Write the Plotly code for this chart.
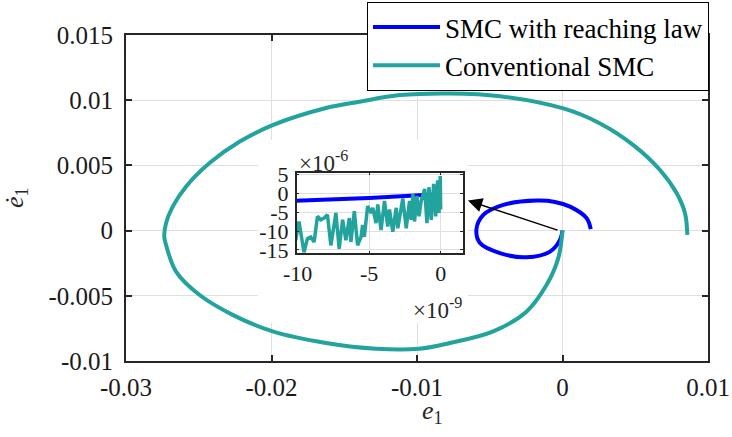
import plotly.graph_objects as go

# ---------------- data ----------------
# Conventional SMC phase trajectory (e1, de1)
conv_e1 = [0.00858, 0.00842, 0.00785, 0.00670, 0.00487, 0.00258, 0.00006, -0.00430,
           -0.00773, -0.01117, -0.01397, -0.01625, -0.01992, -0.02221, -0.02428, -0.02588,
           -0.02679, -0.02725, -0.02737, -0.02725, -0.02656, -0.02496, -0.02267, -0.01992,
           -0.01625, -0.01282, -0.00984, -0.00773, -0.00476, -0.00246, -0.00109, -0.00029, 0.0]
conv_de1 = [-0.00033, 0.00133, 0.00286, 0.00465, 0.00656, 0.00822, 0.00937, 0.01031,
            0.01052, 0.01039, 0.00988, 0.00940, 0.00809, 0.00681, 0.00516, 0.00337,
            0.00184, 0.00057, -0.00046, -0.00109, -0.00314, -0.00492, -0.00646, -0.00773,
            -0.00862, -0.00906, -0.00906, -0.00862, -0.00773, -0.00620, -0.00416, -0.00211, 0.0]

# SMC with reaching law phase trajectory (e1, de1)
rl_e1 = [0.00194, 0.00166, 0.00052, -0.00052, -0.00177, -0.00407, -0.00544, -0.00591,
         -0.00567, -0.00430, -0.00246, -0.00086, -0.00017, 0.0]
rl_de1 = [0.00011, 0.00095, 0.00184, 0.00220, 0.00230, 0.00197, 0.00120, 0.00013,
          -0.00096, -0.00173, -0.00204, -0.00161, -0.00071, 0.0]

# Inset (zoom near origin): e1 in units of 1e-9, de1 in units of 1e-6
inset_conv_e1 = [-10.14, -9.91, -9.56, -9.32, -9.09, -8.85, -8.62, -8.38, -8.15, -7.92,
                 -7.68, -7.33, -7.10, -6.86, -6.63, -6.39, -6.28, -6.04, -5.81, -5.57,
                 -5.46, -5.34, -5.11, -4.87, -4.75, -4.52, -4.40, -4.17, -3.93, -3.70,
                 -3.58, -3.35, -3.11, -3.00, -2.65, -2.41, -2.18, -2.06, -1.94, -1.83,
                 -1.66, -1.52, -1.36, -1.12, -0.96, -0.82, -0.66, -0.49, -0.35, -0.21,
                 -0.12, -0.03, 0.0]
inset_conv_de1 = [-12.45, -7.45, -15.64, -12.0, -11.55, -12.9, -6.09, -7.0, -6.55, -5.64,
                  -13.8, -5.18, -14.7, -7.0, -12.45, -6.55, -12.9, -4.73, -13.8, -11.55,
                  -8.36, -11.55, -3.36, -5.18, -3.82, -7.91, -2.91, -9.73, -2.0, -8.82,
                  -4.27, -10.18, -3.82, -9.27, -1.36, -9.27, -2.0, -7.0, -0.18, -7.45,
                  -0.64, -6.09, -2.0, 1.18, -7.9, 1.64, -7.0, 2.55, -6.1, 3.45,
                  -5.2, 4.64, -4.27]
inset_rl_e1 = [-10.14, -5.0, -1.2, 0.0]
inset_rl_de1 = [-1.95, -1.25, -0.45, -0.2]

# Tick labels
x_ticks = [-0.03, -0.02, -0.01, 0, 0.01]
x_ticktext = ["-0.03", "-0.02", "-0.01", "0", "0.01"]
y_ticks = [-0.01, -0.005, 0, 0.005, 0.01, 0.015]
y_ticktext = ["-0.01", "-0.005", "0", "0.005", "0.01", "0.015"]
ix_ticks = [-10, -5, 0]
ix_ticktext = ["-10", "-5", "0"]
iy_ticks = [5, 0, -5, -10, -15]
iy_ticktext = ["5", "0", "-5", "-10", "-15"]

series_names = ["SMC with reaching law", "Conventional SMC"]

# ---------------- styling ----------------
BLUE = "#0000FF"
TEAL = "#23A39D"
AXC = "#262626"
GRID = "#DFDFDF"
FONT = "Liberation Serif, Times New Roman, serif"

fig = go.Figure()

fig.add_trace(go.Scatter(x=rl_e1, y=rl_de1, mode="lines", name=series_names[0],
                         line=dict(color=BLUE, width=4, shape="spline"),
                         xaxis="x", yaxis="y"))
fig.add_trace(go.Scatter(x=conv_e1, y=conv_de1, mode="lines", name=series_names[1],
                         line=dict(color=TEAL, width=4, shape="spline"),
                         xaxis="x", yaxis="y"))

fig.add_trace(go.Scatter(x=inset_rl_e1, y=inset_rl_de1, mode="lines", showlegend=False,
                         line=dict(color=BLUE, width=4), xaxis="x2", yaxis="y2"))
fig.add_trace(go.Scatter(x=inset_conv_e1, y=inset_conv_de1, mode="lines", showlegend=False,
                         line=dict(color=TEAL, width=3.5), xaxis="x2", yaxis="y2"))

# plot area: x 126..708, y 35..361 px
L, R, T, B = 126, 732 - 708, 35, 437 - 361
PW, PH = 732 - L - R, 437 - T - B

def px(xp):
    return (xp - L) / PW

def py(yp):
    return (437 - B - yp) / PH

axis_common = dict(showline=True, linecolor=AXC, linewidth=2, mirror="ticks",
                   ticks="inside", ticklen=6, tickcolor=AXC, tickwidth=1.5,
                   showgrid=True, gridcolor=GRID, gridwidth=1, zeroline=False,
                   tickfont=dict(family=FONT, size=25, color="#1a1a1a"))
inset_common = dict(showline=True, linecolor=AXC, linewidth=1.5, mirror="ticks",
                    ticks="inside", ticklen=3, tickcolor=AXC, showgrid=True,
                    gridcolor=GRID, zeroline=False,
                    tickfont=dict(family=FONT, size=22, color="#1a1a1a"))

fig.update_layout(
    width=732, height=437,
    margin=dict(l=L, r=R, t=T, b=B, autoexpand=False),
    paper_bgcolor="white", plot_bgcolor="white",
    font=dict(family=FONT, color="#000000"),
    xaxis=dict(range=[-0.03, 0.01], tickvals=x_ticks, ticktext=x_ticktext,
               domain=[0, 1], ticklabelstandoff=3, **axis_common),
    yaxis=dict(range=[-0.01, 0.015], tickvals=y_ticks, ticktext=y_ticktext,
               domain=[0, 1], ticklabelstandoff=6, **axis_common),
    xaxis2=dict(range=[-10.07, 1.54], tickvals=ix_ticks, ticktext=ix_ticktext,
                domain=[px(296.7), px(462.7)], anchor="y2", **inset_common),
    yaxis2=dict(range=[-15.9, 5.5], tickvals=iy_ticks, ticktext=iy_ticktext,
                domain=[py(253.3), py(172.7)], anchor="x2", ticklabelstandoff=2,
                **inset_common),
    legend=dict(x=px(709), y=py(2), xanchor="right", yanchor="top",
                bgcolor="white", bordercolor="#000000", borderwidth=1,
                font=dict(family=FONT, size=27, color="#000000"),
                itemwidth=67, tracegroupgap=0),
    showlegend=True,
)

# white backing behind the inset (hides main grid lines there)
fig.add_shape(type="rect", xref="x", yref="y", layer="between",
              x0=-0.02093, x1=-0.00649, y0=-0.00707, y1=0.00694,
              fillcolor="white", line=dict(width=0))

# arrow from origin to inset
fig.add_annotation(x=-0.0065, y=0.0023, ax=-0.00024, ay=0.0, xref="x", yref="y",
                   axref="x", ayref="y", text="", showarrow=True, arrowhead=2,
                   arrowsize=1.9, arrowwidth=1.5, arrowcolor="#000000")

# axis titles
fig.add_annotation(x=px(432), y=py(430), xref="paper", yref="paper",
                   xanchor="center", yanchor="bottom",
                   text="<i>e</i><sub>1</sub>", showarrow=False,
                   font=dict(family=FONT, size=26, color="#262626"))
fig.add_annotation(x=px(16), y=py(198), xref="paper", yref="paper",
                   xanchor="center", yanchor="middle",
                   text="<i>ė</i><sub>1</sub>", showarrow=False, textangle=-90,
                   font=dict(family=FONT, size=26, color="#262626"))

# exponent labels of inset
fig.add_annotation(x=px(297), y=py(161), xref="paper", yref="paper",
                   xanchor="left", yanchor="middle",
                   text="×10<sup>-6</sup>", showarrow=False,
                   font=dict(family=FONT, size=23, color="#262626"))
fig.add_annotation(x=px(464), y=py(325), xref="paper", yref="paper",
                   xanchor="right", yanchor="bottom",
                   text="×10<sup>-9</sup>", showarrow=False,
                   font=dict(family=FONT, size=23, color="#262626"))

fig.write_html("out.html", config={"displayModeBar": False},
               post_script="document.body.style.margin='0px';")
